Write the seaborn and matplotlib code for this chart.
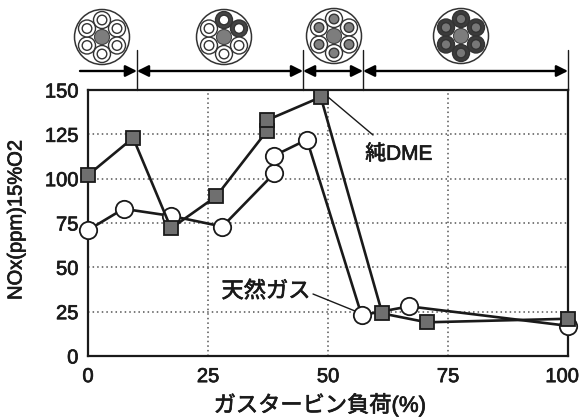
import matplotlib
matplotlib.use("Agg")
import matplotlib.pyplot as plt
import matplotlib.patheffects as pe
from matplotlib.patches import Circle
from matplotlib.transforms import ScaledTranslation
import pandas as pd
import seaborn as sns

dme_load = [0, 9.4, 17.3, 26.7, 37.3, 37.3, 48.5, 61.3, 70.6, 100]
dme_nox = [102, 123, 72, 90, 127, 133, 146, 24, 19, 21]
gas_load = [0, 7.4, 17.3, 28, 38.8, 38.8, 45.6, 57, 66.9, 100]
gas_nox = [71, 83, 79, 73, 103, 113, 122, 23, 28, 17]
xticks = [0, 25, 50, 75, 100]
yticks = [0, 25, 50, 75, 100, 125, 150]
# mode boundaries along the load axis
bounds = [10.2, 44.8, 57.3, 100]

dme = pd.DataFrame({"load": dme_load, "nox": dme_nox})
gas = pd.DataFrame({"load": gas_load, "nox": gas_nox})

sns.set_style("white")
plt.rcParams["font.family"] = ["Liberation Sans", "Noto Sans CJK JP", "DejaVu Sans"]

W, H = 580, 417
fig = plt.figure(figsize=(W / 100, H / 100), dpi=100)
ax = fig.add_axes([88 / W, 1 - 356 / H, 480 / W, 266 / H])

ink = "#1a1a1a"
heavy = [pe.withStroke(linewidth=0.5, foreground="#1a1a1a")]

sns.lineplot(data=gas, x="load", y="nox", sort=False, estimator=None, ax=ax, color=ink, lw=1.9,
             marker="o", ms=12.5, mfc="white", mec=ink, mew=1.3, clip_on=False, zorder=3)
sns.lineplot(data=dme, x="load", y="nox", sort=False, estimator=None, ax=ax, color=ink, lw=1.9,
             marker="s", ms=10, mfc="#6f6f6f", mec=ink, mew=1.3, clip_on=False, zorder=4)

ax.set_xlim(0, 100)
ax.set_ylim(0, 150)
ax.set_xticks(xticks)
ax.set_yticks(yticks)
ax.tick_params(axis="x", length=0, labelsize=14.5, pad=8, labelcolor=ink)
ax.tick_params(axis="y", length=0, labelsize=14.5, pad=7, labelcolor=ink)
ax.grid(True, ls=(0, (1, 2)), lw=1.1, color="#555555")
ax.set_axisbelow(True)
for s in ax.spines.values():
    s.set_linewidth(1.6)
    s.set_color(ink)
ax.set_xlabel("")
ax.set_ylabel("")
for lab in ax.get_xticklabels() + ax.get_yticklabels():
    lab.set_path_effects(heavy)
# last x label sits left of its tick in the original
last = ax.get_xticklabels()[-1]
last.set_transform(last.get_transform() + ScaledTranslation(-6 / 100, 0, fig.dpi_scale_trans))

# overlay in pixel coordinates for the burner icons and arrows
ov = fig.add_axes([0, 0, 1, 1], facecolor="none")
ov.set_xlim(0, W)
ov.set_ylim(H, 0)
ov.axis("off")


def load_px(v):
    return 88 + v * 4.8


edges = [80] + [load_px(b) for b in bounds]
for b in bounds:
    ov.plot([load_px(b)] * 2, [50, 90], color=ink, lw=1)
for i in range(4):
    style = "-|>" if i == 0 else "<|-|>"
    ov.annotate("", xy=(edges[i + 1], 71), xytext=(edges[i], 71),
                arrowprops=dict(arrowstyle=style, color="black", lw=1.7, mutation_scale=17,
                                shrinkA=0, shrinkB=0))

icons = [
    (102, 37, ["w"] * 6),
    (224, 37, ["d", "d", "w", "w", "w", "w"]),
    (334, 36, ["m"] * 6),
    (461, 36, ["D"] * 6),
]
offsets = [(0, -17), (15, -8.5), (15, 8.5), (0, 17), (-15, 8.5), (-15, -8.5)]
for cx, cy, kinds in icons:
    ov.add_patch(Circle((cx, cy), 27.5, fc="white", ec="#333333", lw=1.1))
    ov.add_patch(Circle((cx, cy), 7.5, fc="#7d7d7d", ec="#444444", lw=0.8))
    for (dx, dy), k in zip(offsets, kinds):
        if k == "w":
            ring, core = "white", "white"
        elif k == "d":
            ring, core = "#444444", "white"
        elif k == "m":
            ring, core = "white", "#808080"
        else:
            ring, core = "#3c3c3c", "#777777"
        ov.add_patch(Circle((cx + dx, cy + dy), 8.5, fc=ring, ec="#333333", lw=1))
        ov.add_patch(Circle((cx + dx, cy + dy), 4.8, fc=core, ec="#333333", lw=1))

# labels and leader lines
ov.plot([328, 373], [97, 135], color=ink, lw=1)
ov.plot([313, 355], [294, 311], color=ink, lw=1)
ov.text(399, 154, "純DME", fontsize=15, ha="center", va="center", color=ink, path_effects=heavy)
ov.text(266, 292, "天然ガス", fontsize=16, ha="center", va="center", color=ink, path_effects=heavy)
ov.text(320, 405, "ガスタービン負荷(%)", fontsize=16, ha="center", va="center", color=ink, path_effects=heavy)
ov.text(16, 220, "NOx(ppm)15%O2", fontsize=14.5, rotation=90, ha="center", va="center", color=ink,
        path_effects=heavy)

fig.savefig("out.png", dpi=100)
